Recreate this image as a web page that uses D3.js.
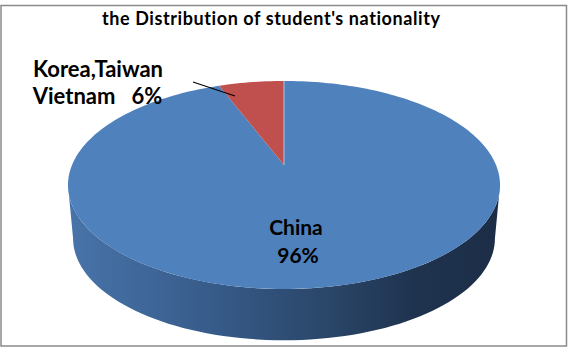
<!DOCTYPE html>
<html>
<head>
<meta charset="utf-8">
<script src="https://cdnjs.cloudflare.com/ajax/libs/d3/7.8.5/d3.min.js"></script>
<style>
  body { margin: 0; background: #fff; }
  text { font-family: Lato, "Liberation Sans", sans-serif; font-weight: bold; fill: #000; white-space: pre; font-variant-ligatures: none; }
</style>
</head>
<body>
<div id="chart"></div>
<script>
// chart data
const title = "the Distribution of student's nationality";
const categories = ["China", "Korea,Taiwan Vietnam"];
const values = [96, 6];
const labels = [["China", "96%"], ["Korea,Taiwan", "Vietnam   6%"]];
const colors = ["#4f81bd", "#c0504d"];

const width = 568,
      height = 348;

const svg = d3.select('#chart').append('svg')
    .attr("width", width)
    .attr("height", height);

// grey frame round the chart area
svg.append("rect")
    .attr("x", 1).attr("y", 5.5)
    .attr("width", 565.5).attr("height", 340.5)
    .attr("fill", "#fff")
    .attr("stroke", "#8a8a8a")
    .attr("stroke-width", 1.5);

svg.append("text")
    .attr("x", 102).attr("y", 25)
    .attr("textLength", 338)
    .attr("lengthAdjust", "spacing")
    .style("font-size", "18px")
    .text(title);

// fake 3d: circle seen with tilt + perspective
const top3d = { cx: 284, cy: 165, S: 212, T: 100.2, k: 0.192 };
const bot3d = { cx: 284, cy: 219, S: 207, T: 98, k: 0.192 };

function project(p, a, r) {
    const u = r * Math.sin(a), v = -r * Math.cos(a);
    const w = 1 - p.k * v;
    return [p.cx + p.S * u / w, p.cy + p.T * v / w];
}

function arcPoints(p, a0, a1, n) {
    const pts = [];
    for (let i = 0; i <= n; i++) pts.push(project(p, a0 + (a1 - a0) * i / n, 1));
    return pts;
}

const pie = d3.pie().sort(null).startAngle(0).endAngle(2 * Math.PI);
const arcs = pie(values);

// side wall, front half only
const aR = Math.acos(-top3d.k), aL = 2 * Math.PI - aR;
const grad = svg.append("defs").append("linearGradient")
    .attr("id", "side")
    .attr("gradientUnits", "userSpaceOnUse")
    .attr("x1", 68).attr("x2", 500).attr("y1", 0).attr("y2", 0);
grad.selectAll("stop")
    .data([[0, "#4874aa"], [0.35, "#365a88"], [0.6, "#2a4669"], [0.8, "#1f334f"], [1, "#1c2d46"]])
    .enter().append("stop")
    .attr("offset", d => d[0])
    .attr("stop-color", d => d[1]);

const sidePts = arcPoints(top3d, aR, aL, 80).concat(arcPoints(bot3d, aL, aR, 80));
svg.append("path")
    .attr("d", d3.line()(sidePts) + "Z")
    .attr("fill", "url(#side)");

// top face slices
svg.selectAll(".slice")
    .data(arcs)
    .enter().append("path")
    .attr("class", "slice")
    .attr("d", d => {
        const n = Math.max(4, Math.ceil((d.endAngle - d.startAngle) * 40));
        const pts = [project(top3d, 0, 0)].concat(arcPoints(top3d, d.startAngle, d.endAngle, n));
        return d3.line()(pts) + "Z";
    })
    .attr("fill", (d, i) => colors[i]);

// thin light edge at 12 o'clock
svg.append("line")
    .attr("x1", top3d.cx).attr("y1", project(top3d, 0, 1)[1])
    .attr("x2", top3d.cx).attr("y2", top3d.cy)
    .attr("stroke", "#b4c4dc").attr("stroke-width", 1);

// China label inside
svg.append("text")
    .attr("x", 296).attr("y", 235)
    .attr("text-anchor", "middle")
    .style("font-size", "21px")
    .selectAll("tspan")
    .data(labels[0])
    .enter().append("tspan")
    .attr("x", (d, i) => i ? 298 : 296)
    .attr("dy", (d, i) => i ? 28 : 0)
    .text(d => d);

// outside label with leader line
svg.append("line")
    .attr("x1", 193).attr("y1", 82)
    .attr("x2", 235).attr("y2", 96)
    .attr("stroke", "#000").attr("stroke-width", 1.2);

svg.append("text")
    .attr("x", 98).attr("y", 77)
    .attr("text-anchor", "middle")
    .style("font-size", "22px")
    .selectAll("tspan")
    .data(labels[1])
    .enter().append("tspan")
    .attr("x", (d, i) => i ? 97.5 : 98)
    .attr("dy", (d, i) => i ? 27 : 0)
    .text(d => d);
</script>
</body>
</html>
